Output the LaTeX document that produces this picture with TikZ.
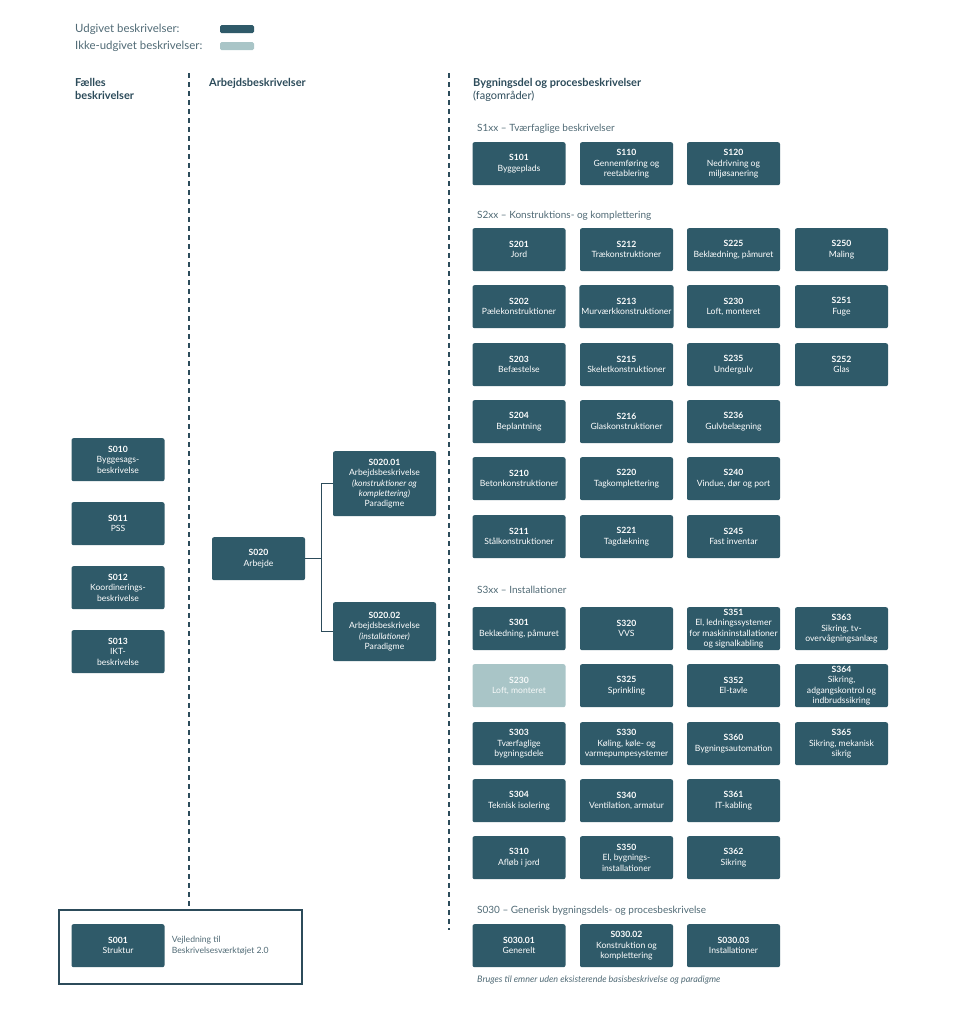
\documentclass[tikz,border=0pt]{standalone}
\usepackage{fontspec}
\setmainfont{Lato}
\usepackage{xcolor}
\usepackage{tikz}
\usetikzlibrary{positioning}

\definecolor{pubfill}{HTML}{2F5A69}
\definecolor{unpubfill}{HTML}{A9C5C7}
\definecolor{headtxt}{HTML}{2C4B5A}
\definecolor{subtxt}{HTML}{506A75}

\begin{document}
\begin{tikzpicture}[
  x=1pt, y=-1pt,
  font=\fontsize{8.6}{10.3}\selectfont,
  comp/.style={rounded corners=2pt, fill=pubfill, text=white, align=center,
               inner sep=2pt, minimum width=93pt, minimum height=43pt, anchor=north},
  unpub/.style={comp, fill=unpubfill, text=white!90!unpubfill},
  swatch/.style={rounded corners=1.5pt, inner sep=0pt, minimum width=34pt, minimum height=8pt},
  colhead/.style={font=\fontsize{11}{13}\selectfont\bfseries, text=headtxt,
                  anchor=north west, align=left, inner sep=0pt},
  grphead/.style={font=\fontsize{10}{12}\selectfont, text=subtxt, anchor=west, inner sep=0pt},
  note/.style={text=subtxt, align=left, inner sep=0pt},
  sep/.style={draw=headtxt, line width=1.5pt, dash pattern=on 5pt off 4pt},
  ln/.style={draw=headtxt, line width=1.3pt},
]
\useasboundingbox (0,0) rectangle (960,1029);

% --- legend -------------------------------------------------------------
\node[grphead, font=\fontsize{11.4}{13}\selectfont] (legpubtxt) at (75,29) {Udgivet beskrivelser:};
\node[grphead, font=\fontsize{11.4}{13}\selectfont] (legunptxt) at (75,46) {Ikke-udgivet beskrivelser:};
\node[swatch, fill=pubfill] (legpub) at (237,29) {};
\node[swatch, fill=unpubfill] (legunp) at (237,46) {};

% --- column headings and separators -------------------------------------
\node[colhead] (hfaelles) at (75,78) {Fælles\\beskrivelser};
\node[colhead] (harb) at (209,78) {Arbejdsbeskrivelser};
\node[colhead] (hbyg) at (473,78) {Bygningsdel og procesbeskrivelser\\{\normalfont(fagområder)}};
\coordinate (sepA) at (189,73);
\coordinate (sepB) at (449,73);
\coordinate (sepBend) at (449,930);

% --- faelles beskrivelser -----------------------------------------------
\node[comp] (s010) at (118,438) {\textbf{S010}\\Byggesags-\\beskrivelse};
\node[comp] (s011) at (118,502) {\textbf{S011}\\PSS};
\node[comp] (s012) at (118,566) {\textbf{S012}\\Koordinerings-\\beskrivelse};
\node[comp] (s013) at (118,630) {\textbf{S013}\\IKT-\\beskrivelse};

% --- arbejdsbeskrivelser: S020 branches into the two paradigms ----------
\node[comp] (s020) at (258.5,537) {\textbf{S020}\\Arbejde};
\node[comp, minimum width=103pt, minimum height=65pt] (s02001) at (384.5,451)
     {\textbf{S020.01}\\Arbejdsbeskrivelse\\\textit{(konstruktioner og}\\\textit{komplettering)}\\Paradigme};
\node[comp, minimum width=103pt, minimum height=59pt] (s02002) at (384.5,602)
     {\textbf{S020.02}\\Arbejdsbeskrivelse\\\textit{(installationer)}\\Paradigme};
\draw[ln] (s020.east) -- ++(16,0) |- (s02001.west);
\draw[ln] (s020.east) -- ++(16,0) |- (s02002.west);

% --- S001 guide, framed -------------------------------------------------
\node[draw=headtxt, line width=1.5pt, minimum width=243pt, minimum height=74pt] (guide) at (180.5,947) {};
\node[comp] (s001) at (118,924) {\textbf{S001}\\Struktur};
\node[note, anchor=west, right=7pt of s001] (guidetxt) {Vejledning til\\Beskrivelsesværktøjet 2.0};

\draw[sep] (sepA) -- (sepA |- guide.north);
\draw[sep] (sepB) -- (sepBend);

% --- S1xx ---------------------------------------------------------------
\node[grphead] (g1) at (477,129) {S1xx -- Tværfaglige beskrivelser};
\node[comp] (s101) at (519,142) {\textbf{S101}\\Byggeplads};
\node[comp] (s110) at (626.5,142) {\textbf{S110}\\Gennemføring og\\reetablering};
\node[comp] (s120) at (733.5,142) {\textbf{S120}\\Nedrivning og\\miljøsanering};

% --- S2xx ---------------------------------------------------------------
\node[grphead] (g2) at (477,216) {S2xx -- Konstruktions- og komplettering};
\node[comp] (s201) at (519,228) {\textbf{S201}\\Jord};
\node[comp] (s212) at (626.5,228) {\textbf{S212}\\Trækonstruktioner};
\node[comp] (s225) at (733.5,228) {\textbf{S225}\\Beklædning, påmuret};
\node[comp] (s250) at (841.5,228) {\textbf{S250}\\Maling};
\node[comp] (s202) at (519,285) {\textbf{S202}\\Pælekonstruktioner};
\node[comp] (s213) at (626.5,285) {\textbf{S213}\\Murværkkonstruktioner};
\node[comp] (s230) at (733.5,285) {\textbf{S230}\\Loft, monteret};
\node[comp] (s251) at (841.5,285) {\textbf{S251}\\Fuge};
\node[comp] (s203) at (519,343) {\textbf{S203}\\Befæstelse};
\node[comp] (s215) at (626.5,343) {\textbf{S215}\\Skeletkonstruktioner};
\node[comp] (s235) at (733.5,343) {\textbf{S235}\\Undergulv};
\node[comp] (s252) at (841.5,343) {\textbf{S252}\\Glas};
\node[comp] (s204) at (519,400) {\textbf{S204}\\Beplantning};
\node[comp] (s216) at (626.5,400) {\textbf{S216}\\Glaskonstruktioner};
\node[comp] (s236) at (733.5,400) {\textbf{S236}\\Gulvbelægning};
\node[comp] (s210) at (519,457) {\textbf{S210}\\Betonkonstruktioner};
\node[comp] (s220) at (626.5,457) {\textbf{S220}\\Tagkomplettering};
\node[comp] (s240) at (733.5,457) {\textbf{S240}\\Vindue, dør og port};
\node[comp] (s211) at (519,515) {\textbf{S211}\\Stålkonstruktioner};
\node[comp] (s221) at (626.5,515) {\textbf{S221}\\Tagdækning};
\node[comp] (s245) at (733.5,515) {\textbf{S245}\\Fast inventar};

% --- S3xx (S230 here is not yet published) ------------------------------
\node[grphead] (g3) at (477,590) {S3xx -- Installationer};
\node[comp] (s301) at (519,607) {\textbf{S301}\\Beklædning, påmuret};
\node[comp] (s320) at (626.5,607) {\textbf{S320}\\VVS};
\node[comp] (s351) at (733.5,607) {\textbf{S351}\\El, ledningssystemer\\for maskininstallationer\\og signalkabling};
\node[comp] (s363) at (841.5,607) {\textbf{S363}\\Sikring, tv-\\overvågningsanlæg};
\node[unpub] (s230i) at (519,664) {\textbf{S230}\\Loft, monteret};
\node[comp] (s325) at (626.5,664) {\textbf{S325}\\Sprinkling};
\node[comp] (s352) at (733.5,664) {\textbf{S352}\\El-tavle};
\node[comp] (s364) at (841.5,664) {\textbf{S364}\\Sikring,\\adgangskontrol og\\indbrudssikring};
\node[comp] (s303) at (519,722) {\textbf{S303}\\Tværfaglige\\bygningsdele};
\node[comp] (s330) at (626.5,722) {\textbf{S330}\\Køling, køle- og\\varmepumpesystemer};
\node[comp] (s360) at (733.5,722) {\textbf{S360}\\Bygningsautomation};
\node[comp] (s365) at (841.5,722) {\textbf{S365}\\Sikring, mekanisk\\sikrig};
\node[comp] (s304) at (519,779) {\textbf{S304}\\Teknisk isolering};
\node[comp] (s340) at (626.5,779) {\textbf{S340}\\Ventilation, armatur};
\node[comp] (s361) at (733.5,779) {\textbf{S361}\\IT-kabling};
\node[comp] (s310) at (519,836) {\textbf{S310}\\Afløb i jord};
\node[comp] (s350) at (626.5,836) {\textbf{S350}\\El, bygnings-\\installationer};
\node[comp] (s362) at (733.5,836) {\textbf{S362}\\Sikring};

% --- S030 generic -------------------------------------------------------
\node[grphead] (g030) at (477,911) {S030 -- Generisk bygningsdels- og procesbeskrivelse};
\node[comp] (s03001) at (519,924) {\textbf{S030.01}\\Generelt};
\node[comp] (s03002) at (626.5,924) {\textbf{S030.02}\\Konstruktion og\\komplettering};
\node[comp] (s03003) at (733.5,924) {\textbf{S030.03}\\Installationer};
\node[note, anchor=west, font=\fontsize{9}{10}\selectfont\itshape] (caption) at (477,980)
     {Bruges til emner uden eksisterende basisbeskrivelse og paradigme};
\end{tikzpicture}
\end{document}
